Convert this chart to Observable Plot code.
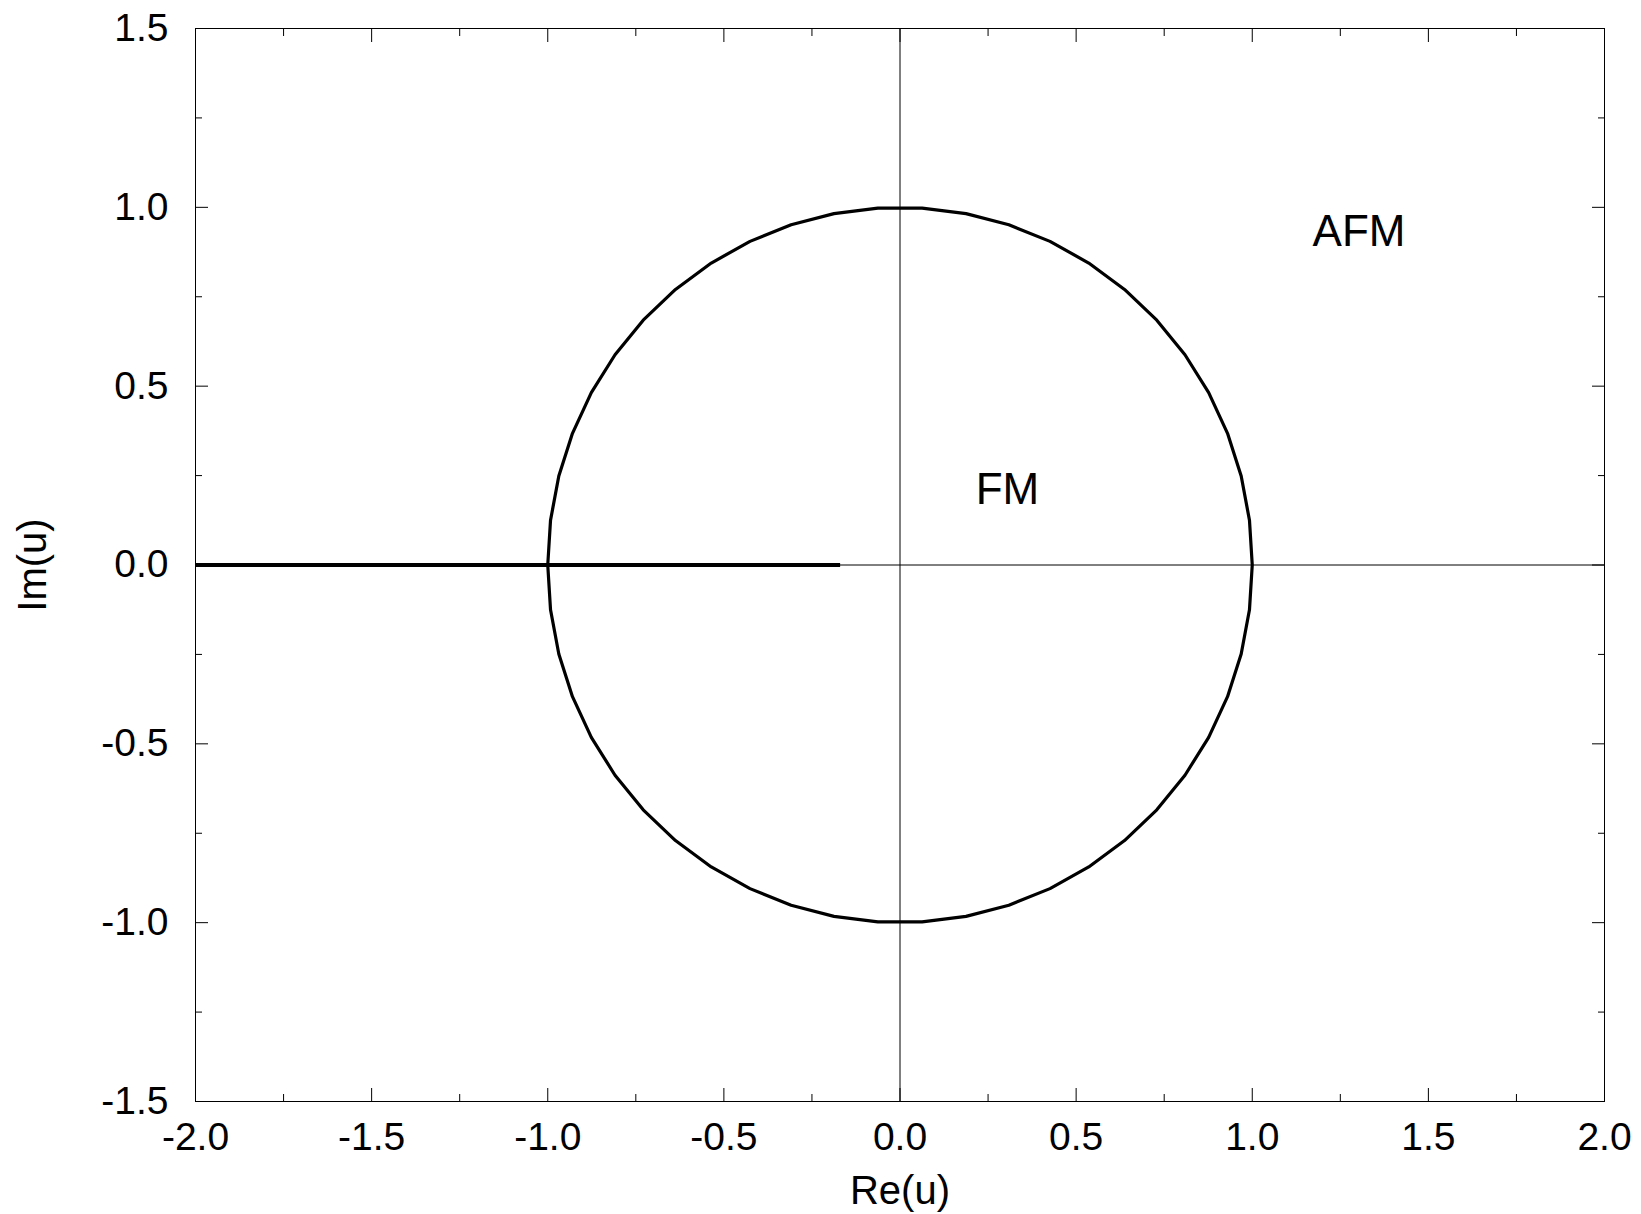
<!DOCTYPE html>
<html><head><meta charset="utf-8">
<script src="https://cdn.jsdelivr.net/npm/d3@7"></script>
<script src="https://cdn.jsdelivr.net/npm/@observablehq/plot@0.6"></script>
<style>html,body{margin:0;padding:0;background:#fff;} svg{display:block;}</style>
</head><body><div id="chart"></div>
<script>
// Unit-circle boundary (50-gon, as drawn in the reference)
const circleRe = [1.0000, 0.9921, 0.9686, 0.9298, 0.8763, 0.8090, 0.7290, 0.6374, 0.5358, 0.4258, 0.3090, 0.1874, 0.0628,
  -0.0628, -0.1874, -0.3090, -0.4258, -0.5358, -0.6374, -0.7290, -0.8090, -0.8763, -0.9298, -0.9686, -0.9921, -1.0000,
  -0.9921, -0.9686, -0.9298, -0.8763, -0.8090, -0.7290, -0.6374, -0.5358, -0.4258, -0.3090, -0.1874, -0.0628,
  0.0628, 0.1874, 0.3090, 0.4258, 0.5358, 0.6374, 0.7290, 0.8090, 0.8763, 0.9298, 0.9686, 0.9921, 1.0000];
const circleIm = [0.0000, 0.1253, 0.2487, 0.3681, 0.4818, 0.5878, 0.6845, 0.7705, 0.8443, 0.9048, 0.9511, 0.9823, 0.9980,
  0.9980, 0.9823, 0.9511, 0.9048, 0.8443, 0.7705, 0.6845, 0.5878, 0.4818, 0.3681, 0.2487, 0.1253, 0.0000,
  -0.1253, -0.2487, -0.3681, -0.4818, -0.5878, -0.6845, -0.7705, -0.8443, -0.9048, -0.9511, -0.9823, -0.9980,
  -0.9980, -0.9823, -0.9511, -0.9048, -0.8443, -0.7705, -0.6845, -0.5878, -0.4818, -0.3681, -0.2487, -0.1253, 0.0000];
// Thick segment on the real axis
const cutRe = [-2.0, -0.17];
const cutIm = [0.0, 0.0];
// Region labels
const regionText = ["FM", "AFM"];
const regionRe = [0.305, 1.303];
const regionIm = [0.21, 0.932];
// Ticks
const xMajor = [-2.0, -1.5, -1.0, -0.5, 0.0, 0.5, 1.0, 1.5, 2.0];
const xMinor = [-1.75, -1.25, -0.75, -0.25, 0.25, 0.75, 1.25, 1.75];
const xTickLabels = ["-2.0", "-1.5", "-1.0", "-0.5", "0.0", "0.5", "1.0", "1.5", "2.0"];
const yMajor = [-1.5, -1.0, -0.5, 0.0, 0.5, 1.0, 1.5];
const yMinor = [-1.25, -0.75, -0.25, 0.25, 0.75, 1.25];
const yTickLabels = ["-1.5", "-1.0", "-0.5", "0.0", "0.5", "1.0", "1.5"];
const xLabel = "Re(u)";
const yLabel = "Im(u)";

const circle = circleRe.map((re, i) => ({re, im: circleIm[i]}));
const cut = cutRe.map((re, i) => ({re, im: cutIm[i]}));
const regions = regionText.map((t, i) => ({t, re: regionRe[i], im: regionIm[i]}));

const font = '"Liberation Sans", Arial, Helvetica, sans-serif';
const fmtX = d => xTickLabels[xMajor.indexOf(d)];
const fmtY = d => yTickLabels[yMajor.indexOf(d)];
const blank = () => "";

const tickMarks = [];
for (const a of ["bottom", "top"]) {
  tickMarks.push(Plot.axisX(xMajor, {anchor: a, tickSize: -13, tickFormat: blank, label: null, stroke: "black"}));
  tickMarks.push(Plot.axisX(xMinor, {anchor: a, tickSize: -7, tickFormat: blank, label: null, stroke: "black"}));
}
for (const a of ["left", "right"]) {
  tickMarks.push(Plot.axisY(yMajor, {anchor: a, tickSize: -13, tickFormat: blank, label: null, stroke: "black"}));
  tickMarks.push(Plot.axisY(yMinor, {anchor: a, tickSize: -7, tickFormat: blank, label: null, stroke: "black"}));
}

const chart = Plot.plot({
  width: 1641,
  height: 1214,
  marginLeft: 195,
  marginRight: 37,
  marginTop: 28,
  marginBottom: 113,
  style: {fontFamily: font, background: "white", color: "black"},
  x: {domain: [-2, 2]},
  y: {domain: [-1.5, 1.5]},
  marks: [
    Plot.ruleX([0], {stroke: "black", strokeWidth: 1}),
    Plot.ruleY([0], {stroke: "black", strokeWidth: 1}),
    Plot.line(circle, {x: "re", y: "im", stroke: "black", strokeWidth: 3.2, curve: "linear"}),
    Plot.line(cut, {x: "re", y: "im", stroke: "black", strokeWidth: 4, strokeLinecap: "butt"}),
    ...tickMarks,
    Plot.axisX(xMajor, {anchor: "bottom", tickSize: 0, tickPadding: 21, fontSize: 39, tickFormat: fmtX, label: null, fill: "black"}),
    Plot.axisY(yMajor, {anchor: "left", tickSize: 0, tickPadding: 27, fontSize: 39, tickFormat: fmtY, label: null, fill: "black"}),
    Plot.text(regions, {x: "re", y: "im", text: "t", fontSize: 44, fill: "black"}),
    Plot.text([xLabel], {frameAnchor: "bottom", dy: 102, lineAnchor: "bottom", textAnchor: "middle", fontSize: 40, fill: "black"}),
    Plot.text([yLabel], {frameAnchor: "left", dx: -150, rotate: -90, lineAnchor: "bottom", textAnchor: "middle", fontSize: 40, fill: "black"}),
    Plot.frame({stroke: "black", strokeWidth: 1})
  ]
});
document.getElementById("chart").appendChild(chart);
</script>
</body></html>
